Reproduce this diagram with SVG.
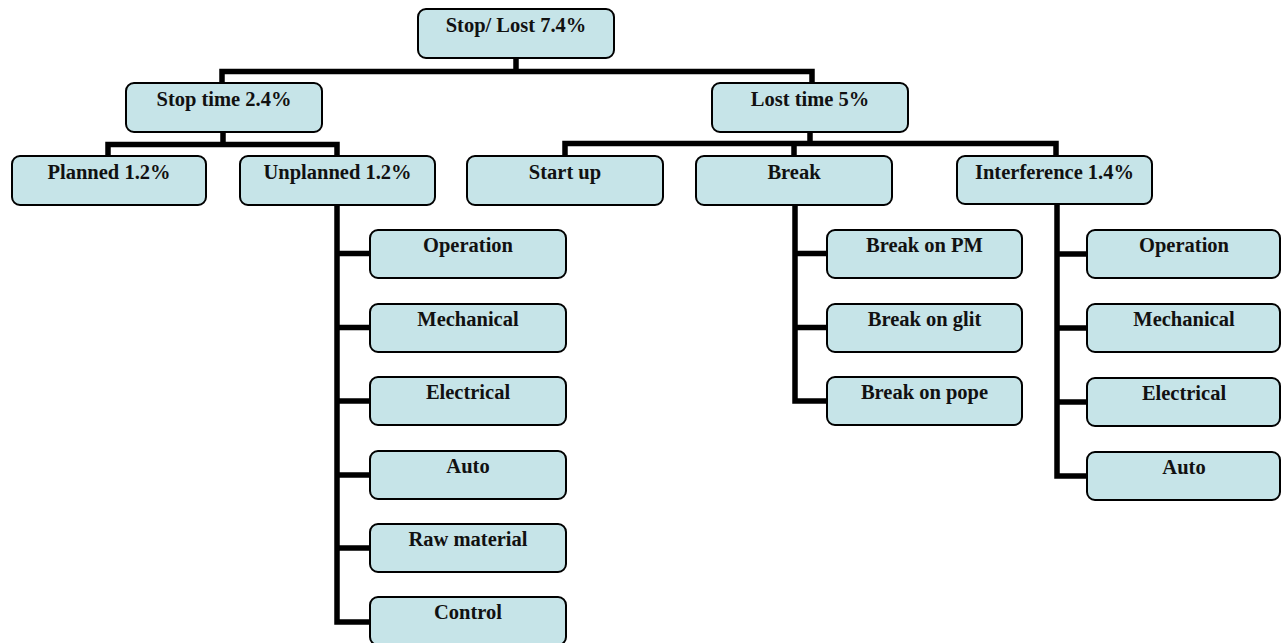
<svg xmlns="http://www.w3.org/2000/svg" width="1281" height="643" viewBox="0 0 1281 643">
<style>
.box{fill:#C6E4E8;stroke:#000;stroke-width:2}
.lbl{font-family:"Liberation Serif","Times New Roman",serif;font-weight:bold;font-size:20.5px;fill:#111;text-anchor:middle}
.conn{fill:none;stroke:#000;stroke-width:5.5;stroke-linejoin:miter}
</style>
<rect width="1281" height="643" fill="#fff"/>
<g id="connectors">
<path class="conn" d="M516 58V71.5M222 92V71.5H812V83"/>
<path class="conn" d="M223 132V144.5M108 156V144.5H337V156"/>
<path class="conn" d="M810 132V143.5M565 156V143.5H1056V156M794 143.5V156"/>
<path class="conn" d="M337 205V622H370M337 253.5H370M337 327.5H370M337 401H370M337 475H370M337 548H370"/>
<path class="conn" d="M795 204V401H827M795 253.5H827M795 327.5H827"/>
<path class="conn" d="M1057 204V476H1087M1057 254H1087M1057 328H1087M1057 402H1087"/>
</g>
<g id="n-top"><rect class="box" x="418" y="9" width="196" height="49" rx="8"/><text class="lbl" x="516" y="32">Stop/ Lost 7.4%</text></g>
<g id="n-stop"><rect class="box" x="126" y="83" width="196" height="49" rx="8"/><text class="lbl" x="224" y="106">Stop time 2.4%</text></g>
<g id="n-lost"><rect class="box" x="712" y="83" width="196" height="49" rx="8"/><text class="lbl" x="810" y="106">Lost time 5%</text></g>
<g id="n-planned"><rect class="box" x="12" y="156" width="194" height="49" rx="8"/><text class="lbl" x="109" y="179">Planned 1.2%</text></g>
<g id="n-unplanned"><rect class="box" x="240" y="156" width="195" height="49" rx="8"/><text class="lbl" x="337.5" y="179">Unplanned 1.2%</text></g>
<g id="n-startup"><rect class="box" x="467" y="156" width="196" height="49" rx="8"/><text class="lbl" x="565" y="179">Start up</text></g>
<g id="n-break"><rect class="box" x="696" y="156" width="196" height="49" rx="8"/><text class="lbl" x="794" y="179">Break</text></g>
<g id="n-interference"><rect class="box" x="957" y="156" width="195" height="48" rx="8"/><text class="lbl" x="1054.5" y="179">Interference 1.4%</text></g>
<g id="n-u-operation"><rect class="box" x="370" y="230" width="196" height="48" rx="8"/><text class="lbl" x="468" y="252">Operation</text></g>
<g id="n-u-mechanical"><rect class="box" x="370" y="304" width="196" height="48" rx="8"/><text class="lbl" x="468" y="326">Mechanical</text></g>
<g id="n-u-electrical"><rect class="box" x="370" y="377" width="196" height="48" rx="8"/><text class="lbl" x="468" y="399">Electrical</text></g>
<g id="n-u-auto"><rect class="box" x="370" y="451" width="196" height="48" rx="8"/><text class="lbl" x="468" y="473">Auto</text></g>
<g id="n-u-raw"><rect class="box" x="370" y="524" width="196" height="48" rx="8"/><text class="lbl" x="468" y="546">Raw material</text></g>
<g id="n-u-control"><rect class="box" x="370" y="597" width="196" height="48" rx="8"/><text class="lbl" x="468" y="619">Control</text></g>
<g id="n-b-pm"><rect class="box" x="827" y="230" width="195" height="48" rx="8"/><text class="lbl" x="924.5" y="252">Break on PM</text></g>
<g id="n-b-glit"><rect class="box" x="827" y="304" width="195" height="48" rx="8"/><text class="lbl" x="924.5" y="326">Break on glit</text></g>
<g id="n-b-pope"><rect class="box" x="827" y="377" width="195" height="48" rx="8"/><text class="lbl" x="924.5" y="399">Break on pope</text></g>
<g id="n-i-operation"><rect class="box" x="1087" y="230" width="193" height="48" rx="8"/><text class="lbl" x="1184" y="252">Operation</text></g>
<g id="n-i-mechanical"><rect class="box" x="1087" y="304" width="193" height="48" rx="8"/><text class="lbl" x="1184" y="326">Mechanical</text></g>
<g id="n-i-electrical"><rect class="box" x="1087" y="378" width="193" height="48" rx="8"/><text class="lbl" x="1184" y="400">Electrical</text></g>
<g id="n-i-auto"><rect class="box" x="1087" y="452" width="193" height="48" rx="8"/><text class="lbl" x="1184" y="474">Auto</text></g>
</svg>
